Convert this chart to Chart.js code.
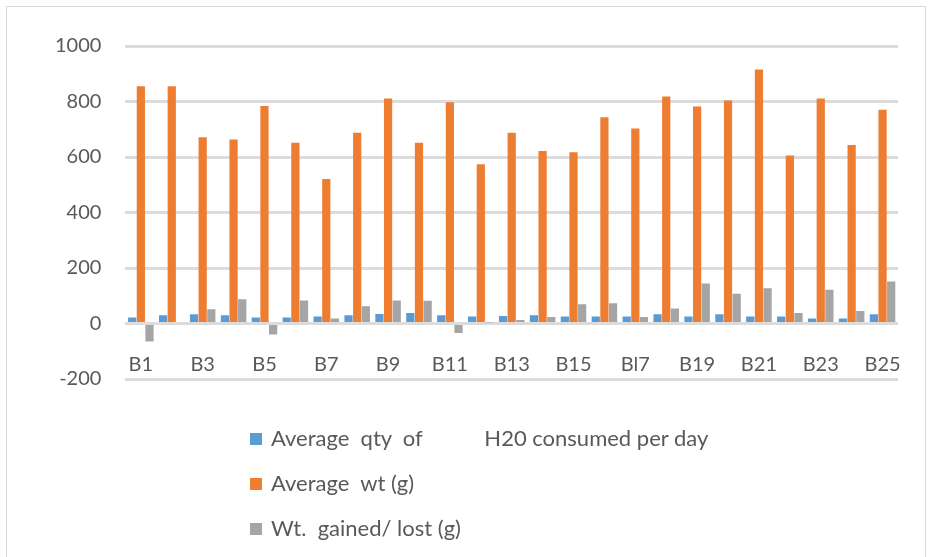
<!DOCTYPE html>
<html>
<head>
  <meta charset="utf-8">
  <title>Water intake and weight</title>
  <script src="https://cdn.jsdelivr.net/npm/chart.js"></script>
  <style>
    body { margin: 0; background: #fff; font-family: Lato, sans-serif; }
    #wrap { position: relative; width: 936px; height: 557px; }
    #frame { position: absolute; left: 6px; top: 6px; width: 920px; height: 560px; border: 1px solid #d9d9d9; box-sizing: border-box; pointer-events: none; }
    #legend { position: absolute; left: 250px; top: 423px; color: #595959; font-size: 22px; }
    #legend div { height: 45px; line-height: 30px; white-space: pre; }
    #legend span.box { display: inline-block; width: 12px; height: 12px; margin-right: 9px; vertical-align: 1px; }
  </style>
</head>
<body>
  <div id="wrap">
    <canvas id="chart" width="936" height="557"></canvas>
    <div id="frame"></div>
    <div id="legend"></div>
  </div>

  <script>
    const categories = ['B1','B2','B3','B4','B5','B6','B7','B8','B9','B10','B11','B12','B13',
                        'B14','B15','B16','Bl7','B18','B19','B20','B21','B22','B23','B24','B25'];
    const waterQty   = [22, 30, 33, 30, 22, 22, 25, 30, 34, 38, 30, 25, 27,
                        30, 25, 25, 25, 33, 25, 33, 25, 25, 18, 18, 33];
    const avgWeight  = [855, 855, 671, 663, 784, 651, 521, 687, 811, 651, 797, 574, 687,
                        622, 617, 743, 703, 818, 782, 804, 915, 605, 811, 643, 770];
    const wtChange   = [-65, 5, 51, 87, -40, 83, 18, 62, 83, 82, -34, 4, 13,
                        23, 69, 73, 23, 54, 144, 107, 127, 38, 122, 45, 151];
    const seriesNames = ['Average  qty  of           H20 consumed per day', 'Average  wt (g)', 'Wt.  gained/ lost (g)'];
    const yTicks = [-200, 0, 200, 400, 600, 800, 1000];

    const colors = ['#5b9bd5', '#ed7d31', '#a5a5a5'];
    let chart;

    window.onload = () => {
      const ctx = document.getElementById('chart').getContext('2d');
      chart = new Chart(ctx, {
        type: 'bar',
        data: {
          labels: categories,
          datasets: [
            { label: seriesNames[0], data: waterQty, backgroundColor: colors[0] },
            { label: seriesNames[1], data: avgWeight, backgroundColor: colors[1] },
            { label: seriesNames[2], data: wtChange, backgroundColor: colors[2] }
          ]
        },
        options: {
          responsive: false,
          animation: false,
          layout: { padding: { top: 46, left: 31, right: 38, bottom: 178 } },
          datasets: { bar: { categoryPercentage: 0.84, barPercentage: 0.95 } },
          plugins: { legend: { display: false }, tooltip: { enabled: false } },
          scales: {
            x: {
              position: { y: 0 },
              grid: { display: false, drawTicks: false },
              border: { display: false },
              ticks: {
                autoSkip: false,
                maxRotation: 0,
                padding: 29,
                color: '#595959',
                font: { family: 'Lato', size: 20 },
                callback: (v, i) => i % 2 === 0 ? categories[i] : ''
              }
            },
            y: {
              min: -200,
              max: 1000,
              afterBuildTicks: s => { s.ticks = yTicks.map(v => ({ value: v })); },
              grid: { color: '#dcdcdc', lineWidth: 3, drawTicks: false },
              border: { display: false },
              ticks: {
                padding: 24,
                color: '#595959',
                font: { family: 'Lato', size: 20 },
                callback: v => String(v)
              }
            }
          }
        }
      });

      // legend below the plot, one item per line
      const legend = document.getElementById('legend');
      chart.data.datasets.forEach(ds => {
        const row = document.createElement('div');
        const box = document.createElement('span');
        box.className = 'box';
        box.style.background = ds.backgroundColor;
        row.appendChild(box);
        row.appendChild(document.createTextNode(ds.label));
        legend.appendChild(row);
      });
    };
  </script>
</body>
</html>
